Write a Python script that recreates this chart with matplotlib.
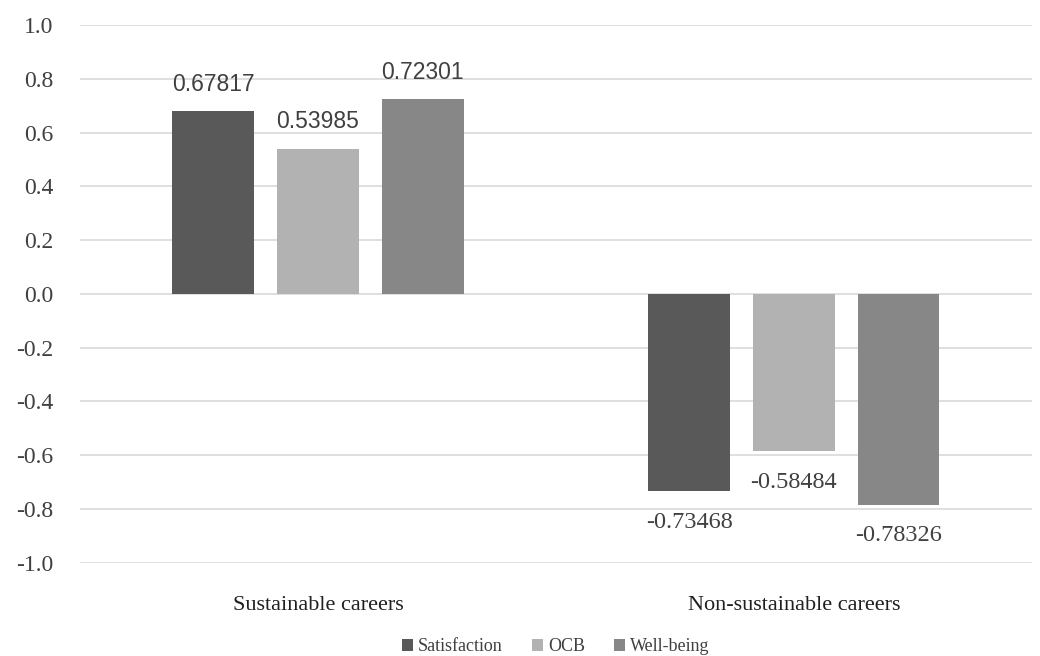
import numpy as np
import matplotlib.pyplot as plt

# data
categories = ["Sustainable careers", "Non-sustainable careers"]
series = ["Satisfaction", "OCB", "Well-being"]
satisfaction = [0.67817, -0.73468]
ocb = [0.53985, -0.58484]
well_being = [0.72301, -0.78326]
yticks = [-1.0, -0.8, -0.6, -0.4, -0.2, 0.0, 0.2, 0.4, 0.6, 0.8, 1.0]

colors = ["#595959", "#b2b2b2", "#878787"]
text_col = "#404040"
serif = "Liberation Serif"

fig = plt.figure(figsize=(10.4, 6.56), dpi=100)
ax = fig.add_axes([0.077, 0.142, 0.915, 0.82])

x = np.arange(len(categories))
width = 0.172
step = 0.22

for i, (name, vals) in enumerate(zip(series, [satisfaction, ocb, well_being])):
    pos = x + (i - 1) * step
    ax.bar(pos, vals, width, color=colors[i], label=name, zorder=3)
    for px, v in zip(pos, vals):
        if v >= 0:
            ax.annotate(f"{v:.5f}", (px, v), xytext=(0, 11), textcoords="offset points",
                        ha="center", va="bottom", fontsize=16.5, color=text_col,
                        family="Liberation Sans")
        else:
            ax.annotate(f"{v:.5f}", (px, v), xytext=(0, -15), textcoords="offset points",
                        ha="center", va="top", fontsize=17.5, color=text_col,
                        family=serif)

ax.set_xlim(-0.5, 1.5)
ax.set_ylim(-1.0, 1.0)
ax.set_yticks(yticks)
ax.set_yticklabels([f"{t:.1f}" for t in yticks], family=serif, fontsize=17, color=text_col)
ax.set_xticks(x)
ax.set_xticklabels(categories, family=serif, fontsize=16, color="#202020")
ax.tick_params(axis="both", length=0)
ax.tick_params(axis="x", pad=24)
ax.tick_params(axis="y", pad=19)

ax.grid(axis="y", color="#d9d9d9", linewidth=1.2, zorder=0)
for s in ax.spines.values():
    s.set_visible(False)

ax.legend(loc="upper center", bbox_to_anchor=(0.5, -0.14), ncol=3, frameon=False,
          prop={"family": serif, "size": 13}, handlelength=0.6, handleheight=0.6,
          handletextpad=0.3, columnspacing=1.6, labelcolor=text_col,
          borderaxespad=0, borderpad=0)

fig.savefig("out.png", dpi=100)
